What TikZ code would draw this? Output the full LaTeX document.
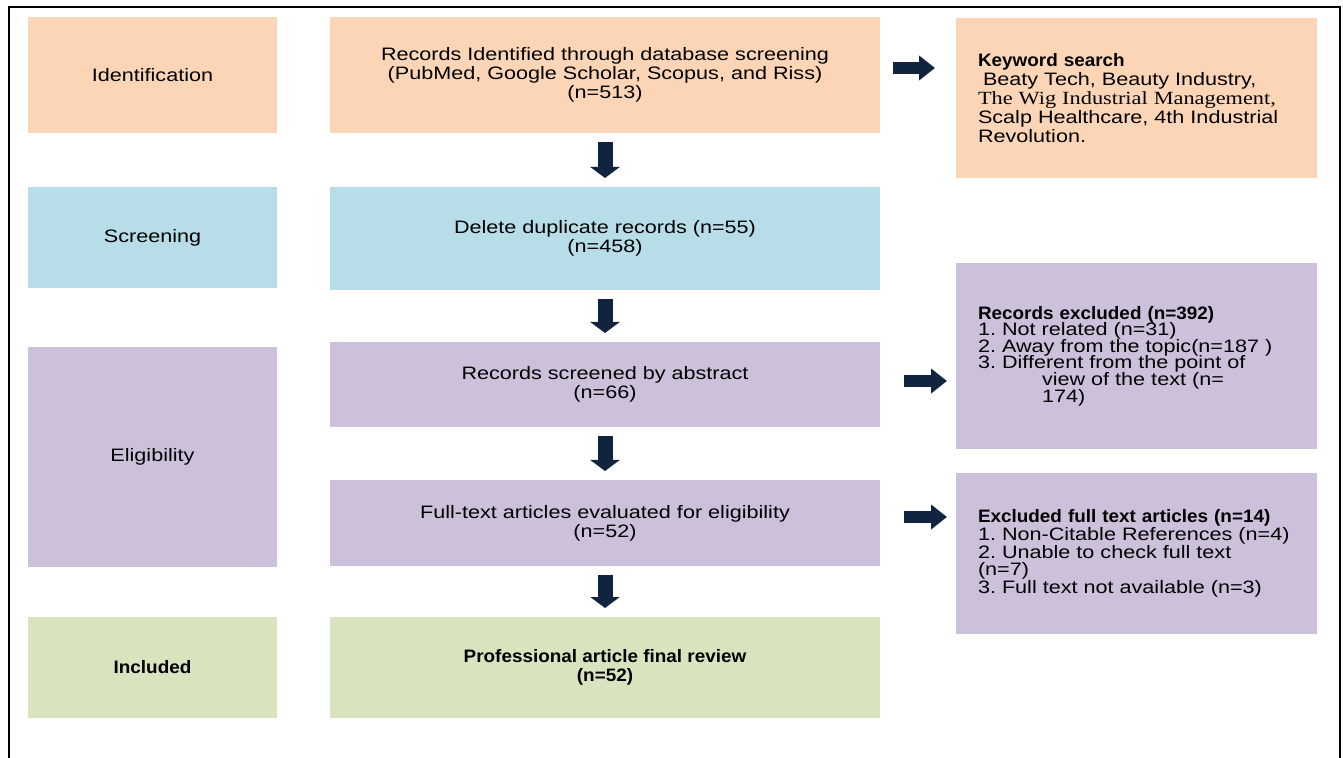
\documentclass[tikz,border=0pt]{standalone}
\usepackage{fontspec}
\setmainfont{Liberation Sans}[FakeStretch=1.2]
\newfontfamily\hdfont{Liberation Sans}[FakeStretch=1.05]
\newfontfamily\tnrfont{Liberation Serif}[FakeStretch=1.2]
\usetikzlibrary{arrows.meta, positioning, calc}
\definecolor{idfill}{HTML}{FBD5B5}
\definecolor{scfill}{HTML}{B7DDE8}
\definecolor{elfill}{HTML}{CCC0DA}
\definecolor{infill}{HTML}{D7E4BD}
\definecolor{arrfill}{HTML}{10243F}
\newcommand\tightlines{\setlength{\lineskiplimit}{-5pt}}
\frenchspacing

\begin{document}
\begin{tikzpicture}[
    x=0.5pt, y=-0.5pt,
    font=\fontsize{9}{9.5}\selectfont,
    box/.style={inner sep=0pt, outer sep=0pt},
    stage/.style={box, minimum width=124.5pt},
    main/.style={box, minimum width=275pt, align=center},
    side/.style={box, text width=158.5pt, inner xsep=11pt, align=left},
    darr/.style={arrfill, line width=7.5pt, -{Triangle[width=14.5pt, length=5.5pt]}, shorten <=4.5pt, shorten >=4.5pt},
    rarr/.style={arrfill, line width=6pt, -{Triangle[width=12pt, length=8pt]}},
    bfnt/.style={font=\fontsize{9}{9.5}\selectfont\hdfont\bfseries},
]
\useasboundingbox (0,0) rectangle (1343,758);
% === Frame (open at the bottom) ===
\draw[line width=1pt] (9,758) -- (9,7) -- (1340,7) -- (1340,758);
% === LEFT: stages ===
\node[stage, fill=idfill, minimum height=58pt] (iden) at (152.5,75) {Identification};
\node[stage, fill=scfill, minimum height=50.5pt] (scr) at (152.5,237.5) {Screening};
\node[stage, fill=elfill, minimum height=110pt] (elig) at (152.5,457) {Eligibility};
\node[stage, fill=infill, minimum height=50.5pt, bfnt] (incl) at (152.5,667.5) {Included};
% === CENTER: flow ===
\node[main, fill=idfill, minimum height=58pt] (recid) at (605,75)
    {Records Identified through database screening\\(PubMed, Google Scholar, Scopus, and Riss)\\(n=513)};
\node[main, fill=scfill, minimum height=51.5pt] (dup) at (605,238.5)
    {Delete duplicate records (n=55)\\(n=458)};
\node[main, fill=elfill, minimum height=42.5pt] (abs) at (605,384.5)
    {Records screened by abstract\\(n=66)};
\node[main, fill=elfill, minimum height=43pt] (full) at (605,523)
    {Full-text articles evaluated for eligibility\\(n=52)};
\node[main, fill=infill, minimum height=50.5pt, bfnt] (final) at (605,667.5)
    {Professional article final review\\(n=52)};
% === RIGHT: notes ===
\node[side, fill=idfill, minimum height=80pt] (kw) at (1136.5,98)
    {{\hdfont\bfseries Keyword search}\\\hspace*{2.5pt}Beaty Tech, Beauty Industry,\\{\tnrfont\fontsize{9.3}{9.5}\selectfont The Wig Industrial Management,}\\Scalp Healthcare, 4th Industrial\\Revolution.};
\node[side, fill=elfill, minimum height=93pt, font=\fontsize{9}{8.3}\selectfont\tightlines] (excl) at (1136.5,356)
    {{\hdfont\bfseries Records excluded (n=392)}\\1. Not related (n=31)\\\mbox{2. Away from the topic(n=187 )}\\3. Different from the point of\\\hspace*{32pt}view of the text (n=\\\hspace*{32pt}174)};
\node[side, fill=elfill, minimum height=80.5pt, font=\fontsize{9}{8.8}\selectfont\tightlines] (exft) at (1136.5,553.5)
    {{\hdfont\bfseries Excluded full text articles (n=14)}\\1. Non-Citable References (n=4)\\2. Unable to check full text\\(n=7)\\3. Full text not available (n=3)};
% === Arrows ===
\draw[darr] (recid) -- (dup);
\draw[darr] (dup) -- (abs);
\draw[darr] (abs) -- (full);
\draw[darr] (full) -- (final);
%
\coordinate (r1) at ($(recid.east)+(0,-7)$);
\draw[rarr, shorten <=6.5pt, shorten >=10.5pt] (r1) -- (r1 -| kw.west);
\coordinate (r2) at ($(abs.east)+(0,-3.5)$);
\draw[rarr, shorten <=12pt, shorten >=4.5pt] (r2) -- (r2 -| excl.west);
\coordinate (r3) at ($(full.east)+(0,-6)$);
\draw[rarr, shorten <=12pt, shorten >=4.5pt] (r3) -- (r3 -| exft.west);
\end{tikzpicture}
\end{document}
